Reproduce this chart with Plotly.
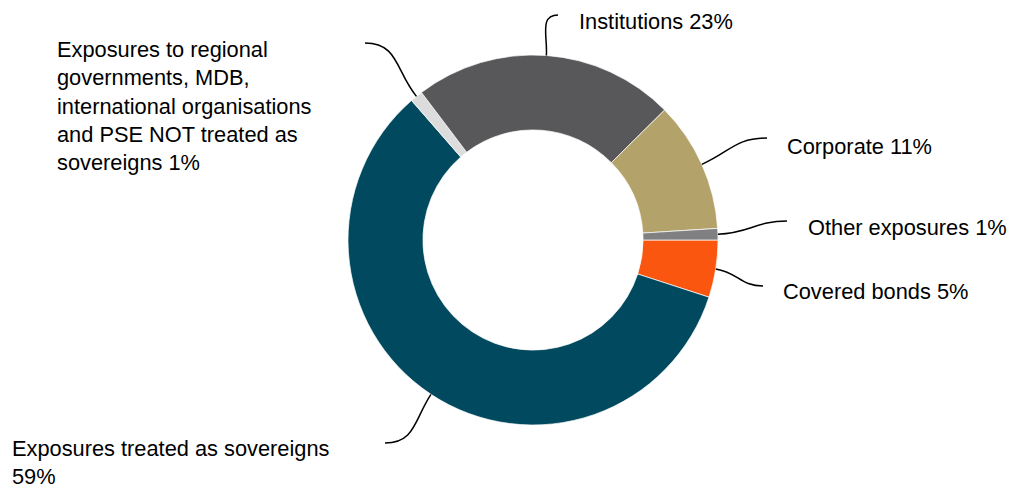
import math
import plotly.graph_objects as go

# slices, clockwise from 3 o'clock
labels = [
    "Covered bonds",
    "Exposures treated as sovereigns",
    "Exposures to regional governments, MDB, international organisations and PSE NOT treated as sovereigns",
    "Institutions",
    "Corporate",
    "Other exposures",
]
values = [5.0, 58.6, 1.1, 22.9, 11.4, 1.0]
colors = ["#FA560F", "#00495E", "#DCDCDC", "#58585A", "#B3A36B", "#808083"]

# label text (wrapped as in the original)
label_text = [
    "Covered bonds {p}",
    "Exposures treated as sovereigns<br>{p}",
    "Exposures to regional<br>governments, MDB,<br>international organisations<br>and PSE NOT treated as<br>sovereigns {p}",
    "Institutions {p}",
    "Corporate {p}",
    "Other exposures {p}",
]

W, H = 1009, 490
cx, cy, R = 533, 240, 185  # donut centre / radius in px

# where each label sits (px) and where its leader ends
label_pos = [(781, 291), (10, 462), (55, 106), (577, 21), (785, 146), (806, 227)]
leader_end = [(763, 286), (385, 443), (365, 43), (558, 15), (767, 138), (787, 221)]

fig = go.Figure()
fig.add_trace(go.Pie(
    labels=labels,
    values=values,
    marker=dict(colors=colors, line=dict(color="white", width=0.7)),
    hole=0.595,
    sort=False,
    direction="clockwise",
    rotation=90,
    textinfo="none",
    hoverinfo="skip",
    showlegend=False,
    domain=dict(x=[(cx - R) / W, (cx + R) / W], y=[1 - (cy + R) / H, 1 - (cy - R) / H]),
))

total = sum(values)
cum = 0
for i, v in enumerate(values):
    mid = -360 * (cum + v / 2) / total
    cum += v
    sx = cx + R * math.cos(math.radians(mid))
    sy = cy - R * math.sin(math.radians(mid))
    ex, ey = leader_end[i]
    # curved leader: leave radially, arrive horizontally
    dx, dy = math.cos(math.radians(mid)), -math.sin(math.radians(mid))
    k = 0.45 * math.hypot(ex - sx, ey - sy)
    c1 = (sx + dx * k, sy + dy * k)
    c2 = (ex - math.copysign(k, ex - sx), ey)
    fig.add_shape(
        type="path",
        path=f"M {sx},{sy} C {c1[0]},{c1[1]} {c2[0]},{c2[1]} {ex},{ey}",
        xref="x", yref="y",
        line=dict(color="black", width=1.5),
    )
    lx, ly = label_pos[i]
    fig.add_annotation(
        x=lx, y=ly, xref="x", yref="y",
        text=label_text[i].format(p=f"{round(v)}%"),
        showarrow=False, xanchor="left", yanchor="middle", align="left",
    )

fig.update_layout(
    width=W, height=H,
    margin=dict(l=0, r=0, t=0, b=0),
    paper_bgcolor="white",
    plot_bgcolor="rgba(0,0,0,0)",
    font=dict(family="Liberation Sans, Arial", size=21.8, color="black"),
    xaxis=dict(range=[0, W], visible=False, fixedrange=True),
    yaxis=dict(range=[H, 0], visible=False, fixedrange=True),
)

fig.write_html("out.html", config={"displayModeBar": False},
               post_script="document.body.style.margin='0';")
